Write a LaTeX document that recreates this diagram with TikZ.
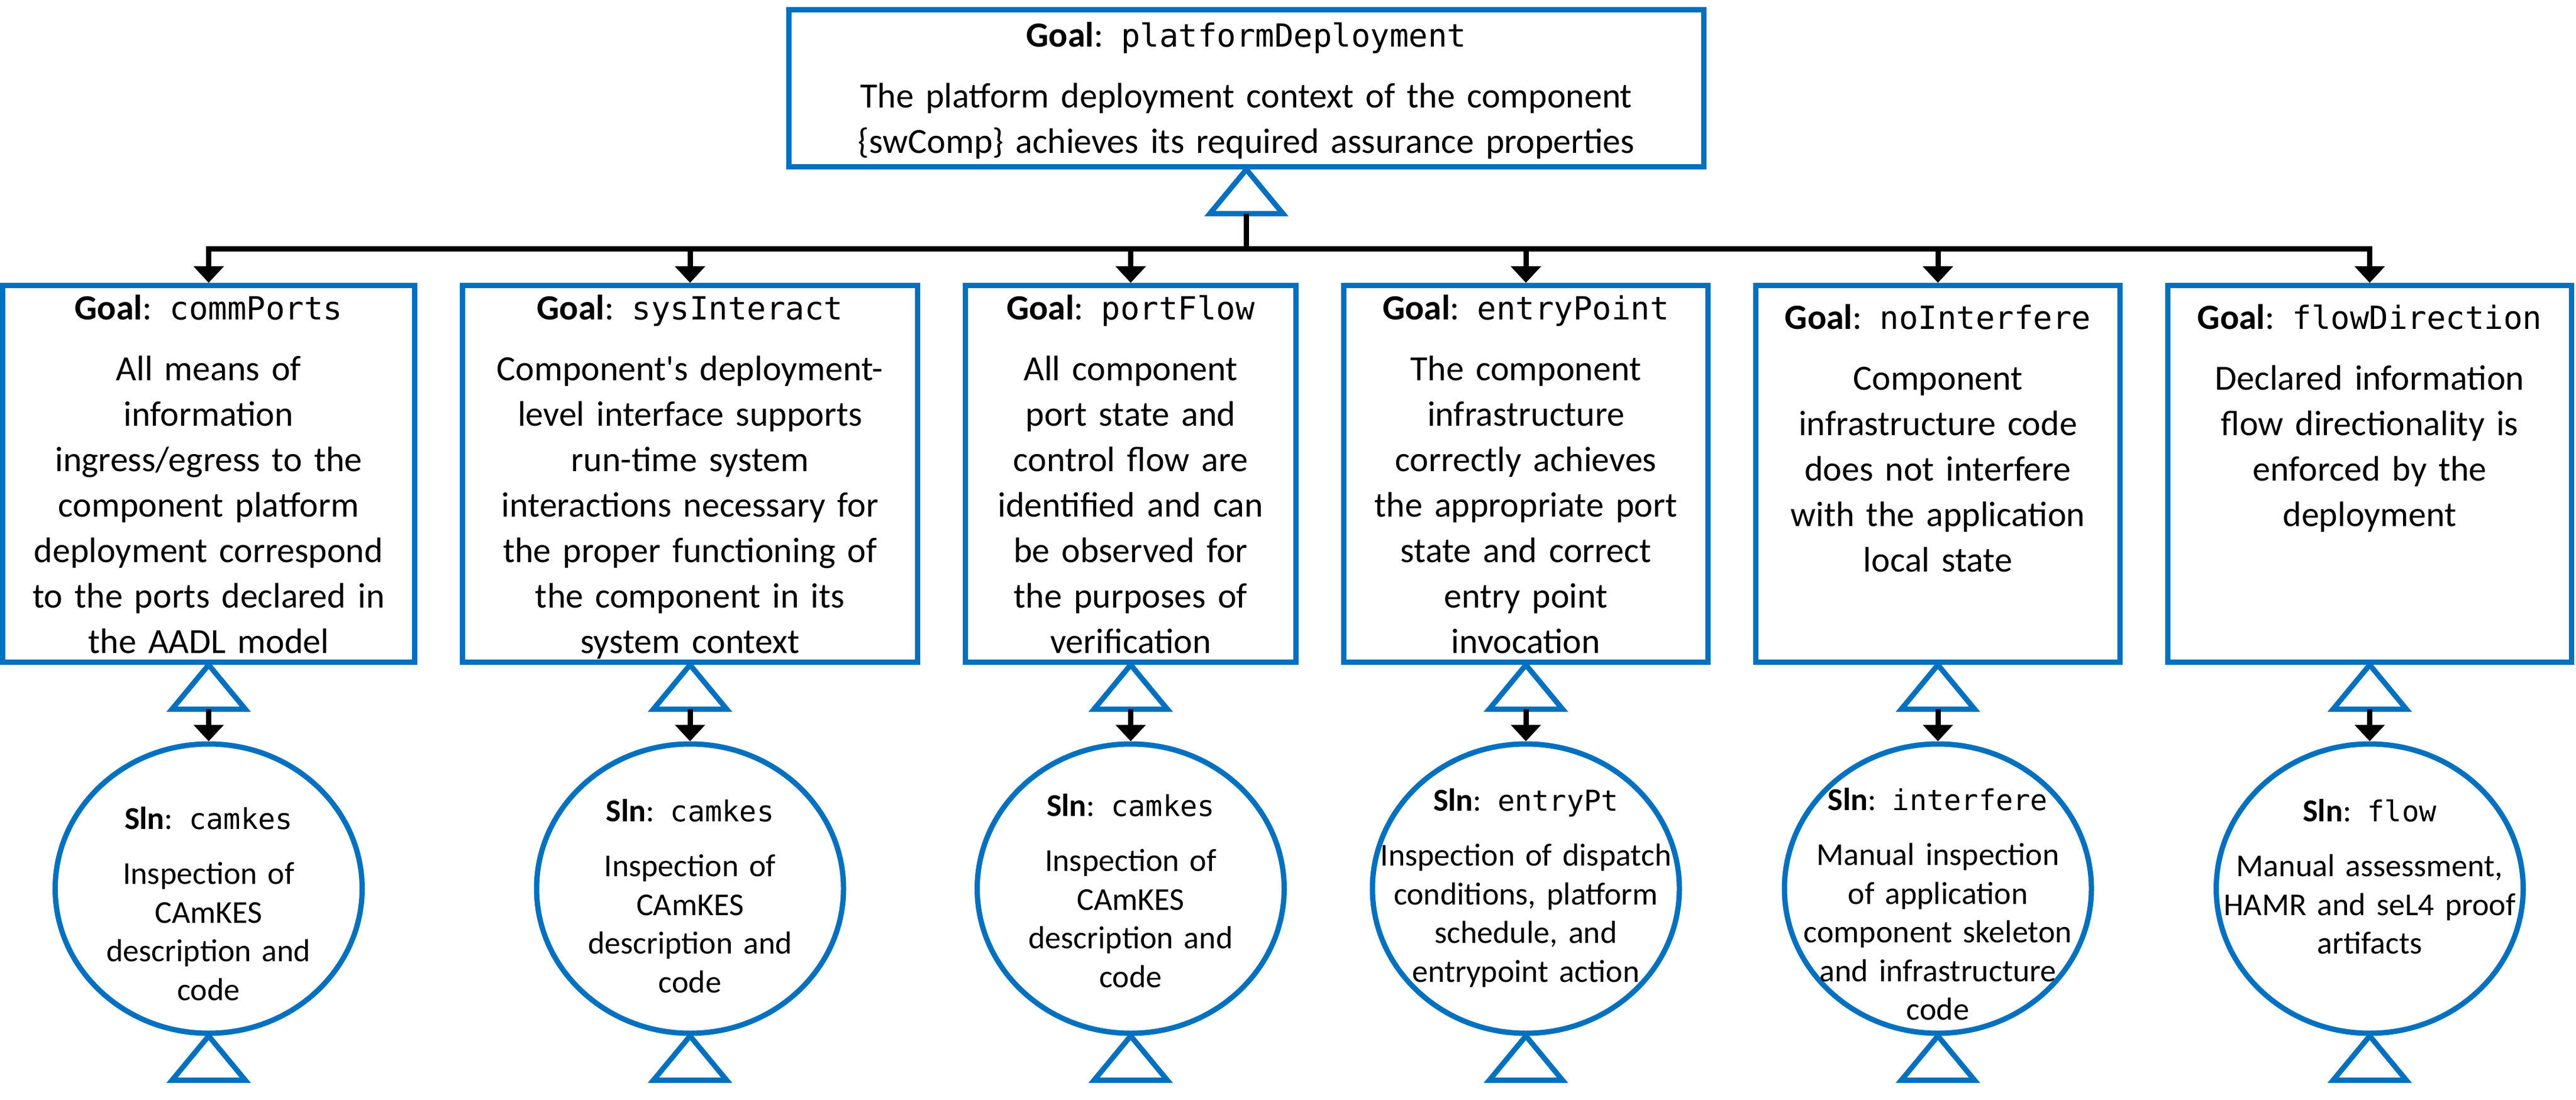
\documentclass[tikz,border=0pt]{standalone}
\usepackage{fontspec}
\setmainfont{Carlito}
\setmonofont{DejaVu Sans Mono}[Scale=0.9]
\usetikzlibrary{positioning,shapes.geometric,arrows.meta}

\definecolor{gsnblue}{HTML}{0070C0}
\newcommand{\goalid}[1]{\textbf{Goal}: \texttt{#1}}
\newcommand{\slnid}[1]{\textbf{Sln}: \texttt{#1}}
% hollow "solved by" triangle hanging under a node, base kept as coordinate
\newcommand{\solvedby}[2]{%
  \draw[solved] (#1.south) -- ++(-6.2mm,-7.5mm) -- ++(12.4mm,0) -- cycle;
  \coordinate (#2) at ([yshift=-7.5mm]#1.south);}

\tikzset{
  goal/.style={rectangle, draw=gsnblue, line width=0.9mm, inner sep=0pt,
    text width=#1, align=center, text height=5.85mm, text depth=57.95mm,
    font=\fontsize{17.07pt}{21.9pt}\selectfont},
  sln/.style={ellipse, draw=gsnblue, line width=0.9mm, inner sep=0pt,
    minimum width=52mm, minimum height=49mm},
  slntext/.style={text width=52mm, align=center, anchor=base, inner sep=0pt,
    font=\fontsize{15.36pt}{18.64pt}\selectfont},
  solved/.style={draw=gsnblue, line width=0.9mm},
  link/.style={draw=black, line width=0.9mm, -{Triangle[width=5mm,length=2.8mm]}}
}

\begin{document}
\begin{tikzpicture}[node distance=7.2mm]
   \useasboundingbox (0,0) rectangle (436.4mm,-186.3mm);
   \node[goal=155mm, text height=6.35mm, text depth=20.25mm] (pd) at (211.15mm,-14.95mm)
     {\goalid{platformDeployment}\\[2.6mm]
      The platform deployment context of the component\\
      \{swComp\} achieves its required assurance properties};
   \solvedby{pd}{pd-b}

   \node[goal=69.8mm] (g1) at (35.35mm,-80.25mm)
     {\goalid{commPorts}\\[2.6mm]
      All means of\\information\\ingress/egress to the\\component platform\\
      deployment correspond\\to the ports declared in\\the AADL model};
   \node[goal=77.1mm] (g2) [right=of g1]
     {\goalid{sysInteract}\\[2.6mm]
      Component\textquotesingle s deployment-\\level interface supports\\run-time system\\
      interactions necessary for\\the proper functioning of\\the component in its\\system context};
   \node[goal=56mm] (g3) [right=of g2]
     {\goalid{portFlow}\\[2.6mm]
      All component\\port state and\\control flow are\\identified and can\\
      be observed for\\the purposes of\\verification};
   \node[goal=61.7mm] (g4) [right=of g3]
     {\goalid{entryPoint}\\[2.6mm]
      The component\\infrastructure\\correctly achieves\\the appropriate port\\
      state and correct\\entry point\\invocation};
   \node[goal=61.7mm, text height=7.4mm, text depth=56.4mm] (g5) [right=of g4]
     {\goalid{noInterfere}\\[2.6mm]
      Component\\infrastructure code\\does not interfere\\with the application\\local state};
   \node[goal=68.4mm, text height=7.4mm, text depth=56.4mm] (g6) [right=of g5]
     {\goalid{flowDirection}\\[2.6mm]
      Declared information\\flow directionality is\\enforced by the\\deployment};

   \coordinate (bus) at ([yshift=-6mm]pd-b);
   \foreach \g in {g1,g2,g3,g4,g5,g6}
     \draw[link] (pd-b) -- (bus) -| (\g);

   \foreach \g in {g1,g2,g3,g4,g5,g6}
     {\solvedby{\g}{\g-b}}

   % solution ellipses, text set separately from the first baseline
   \foreach \i in {1,...,6}
     \node[sln] (s\i) [below=5.45mm of g\i-b] {};

   \node[slntext] (s1-t) at ([yshift=-14.9mm]s1.north)
     {\slnid{camkes}\\[2.75mm] Inspection of\\CAmKES\\description and\\code};
   \node[slntext] (s2-t) at ([yshift=-13.6mm]s2.north)
     {\slnid{camkes}\\[2.75mm] Inspection of\\CAmKES\\description and\\code};
   \node[slntext] (s3-t) at ([yshift=-12.7mm]s3.north)
     {\slnid{camkes}\\[2.75mm] Inspection of\\CAmKES\\description and\\code};
   \node[slntext] (s4-t) at ([yshift=-11.8mm]s4.north)
     {\slnid{entryPt}\\[2.75mm] Inspection of dispatch\\conditions, platform\\schedule, and\\entrypoint action};
   \node[slntext] (s5-t) at ([yshift=-11.7mm]s5.north)
     {\slnid{interfere}\\[2.75mm] Manual inspection\\of application\\component skeleton\\and infrastructure\\code};
   \node[slntext] (s6-t) at ([yshift=-13.6mm]s6.north)
     {\slnid{flow}\\[2.75mm] Manual assessment,\\HAMR and seL4 proof\\artifacts};

   \foreach \i in {1,...,6}
     \draw[link] (g\i-b) -- (s\i);
   \foreach \s in {s1,s2,s3,s4,s5,s6}
     {\solvedby{\s}{\s-b}}
\end{tikzpicture}
\end{document}
